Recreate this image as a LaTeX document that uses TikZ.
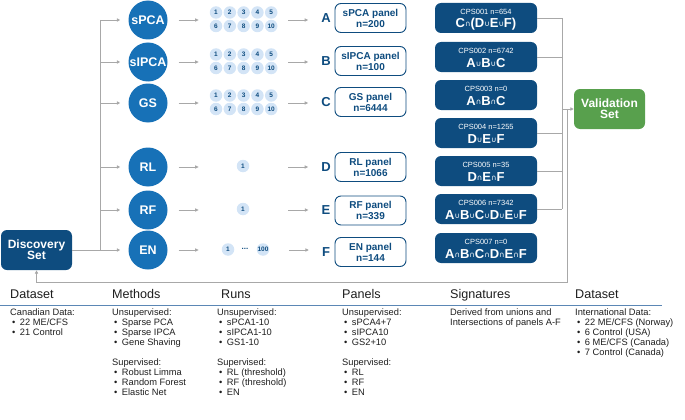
\documentclass[tikz,border=0pt]{standalone}
\usepackage{fontspec}
\setmainfont{Liberation Sans}
\newfontfamily\symfont{DejaVu Sans}
\usetikzlibrary{arrows.meta}
\definecolor{dblue}{HTML}{0E4C7F}
\definecolor{cblue}{HTML}{1771B7}
\definecolor{lblue}{HTML}{D3E4F6}
\definecolor{vgreen}{HTML}{58A04D}
\definecolor{lgray}{HTML}{A8A8A8}
\definecolor{sepblue}{HTML}{5B87B5}
\definecolor{txt}{HTML}{1E1E1E}
\newcommand{\sU}{\raisebox{0.6pt}{\mdseries\symfont\fontsize{7.5}{7.5}\selectfont ∪}}
\newcommand{\sI}{\raisebox{0.6pt}{\mdseries\symfont\fontsize{7.5}{7.5}\selectfont ∩}}
\newcommand{\bitem}[1]{\hspace*{2pt}\textbullet\hspace{4.5pt}#1}
\begin{document}
\begin{tikzpicture}[x=1pt,y=-1pt,
  method/.style={circle, fill=cblue, text=white, font=\fontsize{12.5}{13}\selectfont\bfseries, minimum size=39pt, inner sep=0pt},
  run/.style={circle, fill=lblue, text=dblue, font=\fontsize{6.5}{7}\selectfont\bfseries, minimum size=12.5pt, inner sep=0pt},
  letter/.style={text=dblue, font=\fontsize{13}{13}\selectfont\bfseries, inner sep=0pt},
  panel/.style={draw=dblue, line width=0.9pt, rounded corners=6pt, fill=white, text=dblue, font=\fontsize{10}{11}\selectfont\bfseries, minimum width=71pt, minimum height=29pt, align=center, inner sep=0pt},
  sig/.style={fill=dblue, rounded corners=6pt, minimum width=102pt, minimum height=30pt, inner sep=0pt},
  sigtop/.style={text=white, font=\fontsize{7.5}{8}\selectfont, inner sep=0pt},
  sigbot/.style={text=white, font=\fontsize{13}{13}\selectfont\bfseries, inner sep=0pt},
  bigbox/.style={rounded corners=6pt, text=white, font=\fontsize{12}{11}\selectfont\bfseries, minimum width=71pt, minimum height=40pt, align=center, inner sep=0pt},
  conn/.style={draw=lgray, line width=0.9pt},
  arr/.style={conn, -{Triangle[length=3.5pt,width=3.2pt]}},
  hdr/.style={anchor=base west, inner sep=0pt, text=txt, font=\fontsize{12.6}{14}\selectfont},
  body/.style={anchor=north west, inner sep=0pt, text=txt, align=left, font=\fontsize{9.3}{10}\selectfont}
]
\useasboundingbox (0,0) rectangle (685,420);

% discovery and trunk
\node[bigbox, fill=dblue] (disc) at (36.5,250) {Discovery\\Set};
\coordinate (jt) at (100,20);
\coordinate (jb) at (100,250);
\draw[conn] (jt) -- (jb);
\draw[conn] (disc.east) -- (jb);

% methods
\node[method] (m1) at (148,20) {sPCA};
\node[method] (m2) at (148,62) {sIPCA};
\node[method] (m3) at (148,103) {GS};
\node[method] (m4) at (148,167) {RL};
\node[method] (m5) at (148,210) {RF};
\node[method] (m6) at (148,250) {EN};
\foreach \m in {m1,m2,m3,m4,m5,m6} {
  \draw[arr, shorten >=8pt] (jt |- \m) -- (\m.west);
  \draw[arr] ([xshift=11pt]\m.east) -- ([xshift=31pt]\m.east);
}

% runs
\foreach \r/\y in {1/20,2/62,3/103} {
  \foreach \k in {1,...,5} {
    \pgfmathtruncatemacro\kk{\k+5}
    \node[run] (ru\r-\k) at ({216+13.8*(\k-1)},{\y-7.5}) {\k};
    \node[run] (rl\r-\k) at ({216+13.8*(\k-1)},{\y+6}) {\kk};
  }
}
\node[run] (rrl) at (243,166) {1};
\node[run] (rrf) at (243,209) {1};
\node[run] (ren1) at (228,249.5) {1};
\node[text=dblue, font=\fontsize{8}{8}\selectfont\bfseries, inner sep=0pt] (rend) at (245,248.5) {...};
\node[run] (ren2) at (263,249.5) {100};

% letters and panels
\foreach \i/\l/\y/\a/\b in {1/A/18/sPCA panel/n=200, 2/B/61/sIPCA panel/n=100, 3/C/102/GS panel/n=6444, 4/D/167/RL panel/n=1066, 5/E/210.5/RF panel/n=339, 6/F/252/EN panel/n=144} {
  \node[letter] (L\i) at (326,\y) {\l};
  \node[panel] (P\i) at (370.5,\y) {\a\\\b};
}
\foreach \i/\m in {1/m1,2/m2,3/m3,4/m4,5/m5,6/m6} {
  \draw[arr] ([xshift=-33pt]L\i.west |- \m) -- ([xshift=-13pt]L\i.west |- \m);
}

% signatures
\foreach \i/\y/\t/\f in {
  1/18/CPS001 n=654/{C\sI(D\sU E\sU F)},
  2/57/CPS002 n=6742/{A\sU B\sU C},
  3/95/CPS003 n=0/{A\sI B\sI C},
  4/133/CPS004 n=1255/{D\sU E\sU F},
  5/171/CPS005 n=35/{D\sI E\sI F},
  6/209/CPS006 n=7342/{A\sU B\sU C\sU D\sU E\sU F},
  7/248/CPS007 n=0/{A\sI B\sI C\sI D\sI E\sI F}} {
  \node[sig] (S\i) at (486,\y) {};
  \node[sigtop] (St\i) at ([yshift=6pt]S\i.center) {\t};
  \node[sigbot] (Sb\i) at ([yshift=-6pt]S\i.center) {\f};
}

% validation
\node[bigbox, fill=vgreen] (val) at (609.5,109) {Validation\\Set};
\coordinate (vt) at (562,18);
\coordinate (vb) at (562,209);
\draw[conn] (vt) -- (vb);
\foreach \s in {S1,S2,S4,S5,S6} { \draw[conn] (\s.east) -- (vt |- \s); }
\draw[arr] (vt |- val) -- (val.west);
\coordinate (fb) at (567,282);
\draw[arr] (fb |- val) -- (fb) -- (fb -| disc) -- (disc.south);

% legend headers
\node[hdr] (h1) at (10,298.5) {Dataset};
\node[hdr] (h2) at (112,298.5) {Methods};
\node[hdr] (h3) at (221,298.5) {Runs};
\node[hdr] (h4) at (342,298.5) {Panels};
\node[hdr] (h5) at (450,298.5) {Signatures};
\node[hdr] (h6) at (575,298.5) {Dataset};
\draw[sepblue, line width=1pt] (0,305) -- (662,305);

\node[body] (b1) at (10,308.5) {Canadian Data:\\\bitem{22 ME/CFS}\\\bitem{21 Control}};
\node[body] (b2) at (112,308.5) {Unsupervised:\\\bitem{Sparse PCA}\\\bitem{Sparse IPCA}\\\bitem{Gene Shaving}\\[10pt]Supervised:\\\bitem{Robust Limma}\\\bitem{Random Forest}\\\bitem{Elastic Net}};
\node[body] (b3) at (217,308.5) {Unsupervised:\\\bitem{sPCA1-10}\\\bitem{sIPCA1-10}\\\bitem{GS1-10}\\[10pt]Supervised:\\\bitem{RL (threshold)}\\\bitem{RF (threshold)}\\\bitem{EN}};
\node[body] (b4) at (342,308.5) {Unsupervised:\\\bitem{sPCA4+7}\\\bitem{sIPCA10}\\\bitem{GS2+10}\\[10pt]Supervised:\\\bitem{RL}\\\bitem{RF}\\\bitem{EN}};
\node[body] (b5) at (450,308.5) {Derived from unions and\\Intersections of panels A-F};
\node[body] (b6) at (575,308.5) {International Data:\\\bitem{22 ME/CFS (Norway)}\\\bitem{6 Control (USA)}\\\bitem{6 ME/CFS (Canada)}\\\bitem{7 Control (Canada)}};
\end{tikzpicture}
\end{document}
